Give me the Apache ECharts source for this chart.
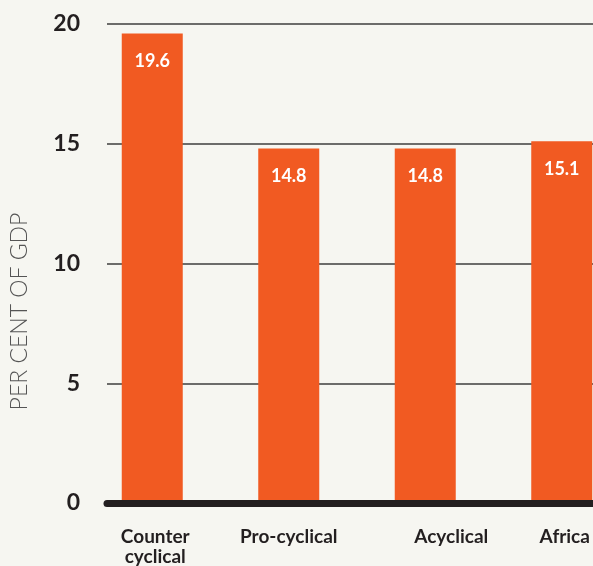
<!DOCTYPE html>
<html>
<head>
<meta charset="utf-8">
<script src="https://cdn.jsdelivr.net/npm/echarts@6/dist/echarts.min.js"></script>
<style>
html,body{margin:0;padding:0;background:#F6F6F1;}
#chart{width:593px;height:566px;}
</style>
</head>
<body>
<div id="chart"></div>
<script>
const categories = ['Counter\ncyclical', 'Pro-cyclical', 'Acyclical', 'Africa'];
const values = [19.6, 14.8, 14.8, 15.1];
const yTicks = [0, 5, 10, 15, 20];
const yTitle = 'PER CENT OF GDP';

const chart = echarts.init(document.getElementById('chart'), null, {renderer: 'canvas'});
const font = 'Lato, "Open Sans", sans-serif';
// label offsets as in the original layout (Acyclical label sits right of its bar)
const labelPad = {'Acyclical': [0, 0, 0, 52], 'Counter\ncyclical': [0, 0, 0, 6], 'Africa': [0, 0, 0, 6]};
const catData = categories.map(c => labelPad[c] ? {value: c, textStyle: {padding: labelPad[c]}} : c);

chart.setOption({
  backgroundColor: '#F6F6F1',
  animation: false,
  grid: [
    {left: 84, width: 546, top: 24, bottom: 63, containLabel: false, outerBoundsMode: 'none'},
    {left: 107, right: 0, top: 24, bottom: 63, containLabel: false, outerBoundsMode: 'none'}
  ],
  xAxis: [
    {
      type: 'category', gridIndex: 0, data: catData,
      axisLine: {show: false}, axisTick: {show: false},
      axisLabel: {
        interval: 0, margin: 24, color: '#231F20', fontFamily: font,
        fontWeight: 'bold', fontSize: 19, lineHeight: 20
      }
    },
    {
      type: 'value', gridIndex: 1, min: 0, max: 1, z: 5,
      axisLine: {show: true, lineStyle: {color: '#231F20', width: 7}},
      axisTick: {show: false}, axisLabel: {show: false}, splitLine: {show: false}
    }
  ],
  yAxis: [
    {
      type: 'value', gridIndex: 0, min: yTicks[0], max: yTicks[yTicks.length - 1], interval: 5,
      show: false
    },
    {
      type: 'value', gridIndex: 1, min: yTicks[0], max: yTicks[yTicks.length - 1], interval: 5,
      axisLine: {show: false}, axisTick: {show: false},
      axisLabel: {
        margin: 27, color: '#231F20', fontFamily: font, fontWeight: 'bold', fontSize: 23
      },
      splitLine: {show: true, lineStyle: {color: '#3E3E3C', width: 1.5}},
      name: yTitle, nameLocation: 'middle', nameGap: 76, nameRotate: 90,
      nameTextStyle: {
        color: '#555555', fontFamily: font, fontWeight: 300, fontSize: 23,
        padding: [0, 96, 0, 0]
      }
    }
  ],
  series: [{
    type: 'bar', xAxisIndex: 0, yAxisIndex: 0, data: values,
    barWidth: 61,
    itemStyle: {color: '#F15A22'},
    label: {
      show: true, position: 'insideTop', distance: 19,
      color: '#FFFFFF', fontFamily: font, fontWeight: 'bold', fontSize: 18,
      formatter: p => p.value.toFixed(1)
    }
  }]
});
</script>
</body>
</html>
